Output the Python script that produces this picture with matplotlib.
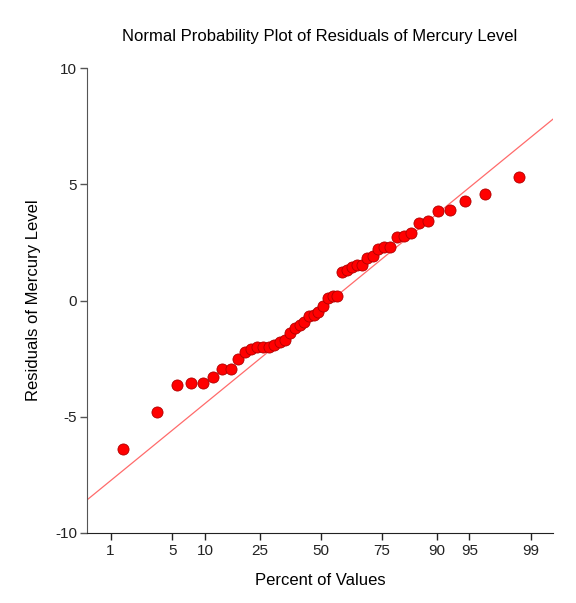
import matplotlib
matplotlib.use("Agg")
import matplotlib.pyplot as plt
import numpy as np
from statistics import NormalDist

plt.rcParams['font.family'] = ['Liberation Sans', 'DejaVu Sans']

# Sorted residuals
residuals = [-6.41, -4.79, -3.65, -3.57, -3.55, -3.29, -2.96, -2.93, -2.53, -2.20,
             -2.07, -2.02, -1.99, -1.99, -1.93, -1.79, -1.70, -1.38, -1.18, -1.06,
             -0.91, -0.67, -0.62, -0.48, -0.24, 0.09, 0.19, 0.21, 1.22, 1.31,
             1.46, 1.53, 1.53, 1.82, 1.92, 2.22, 2.32, 2.32, 2.73, 2.76,
             2.89, 3.36, 3.41, 3.87, 3.88, 4.30, 4.57, 5.33]
tick_percents = [1, 5, 10, 25, 50, 75, 90, 95, 99]
tick_labels = ["1", "5", "10", "25", "50", "75", "90", "95", "99"]
line_intercept = -0.36
line_slope = 3.18

nd = NormalDist()
n = len(residuals)
percents = [100 * (i - 0.3175) / (n + 0.365) for i in range(1, n + 1)]
z = np.array([nd.inv_cdf(p / 100) for p in percents])
tick_z = [nd.inv_cdf(p / 100) for p in tick_percents]

fig = plt.figure(figsize=(5.76, 6.03), dpi=100)
ax = fig.add_axes([0.151, 0.1166, 0.809, 0.770])

xlim = (-2.588, 2.57)
xx = np.array(xlim)
ax.plot(xx, line_intercept + line_slope * xx, color='#ff6b6b', lw=0.9, zorder=2)
ax.plot(z, residuals, 'o', color='#ff0000', markeredgecolor='#b00000',
        markeredgewidth=0.6, markersize=8, zorder=3)

ax.set_xlim(*xlim)
ax.set_ylim(-10, 10)
ax.set_xticks(tick_z)
ax.set_xticklabels(tick_labels)
ax.set_yticks([-10, -5, 0, 5, 10])
ax.set_yticklabels(["-10", "-5", "0", "5", "10"])

for s in ['top', 'right']:
    ax.spines[s].set_visible(False)
ax.spines['left'].set_color('#555555')
ax.spines['bottom'].set_color('#222222')
ax.tick_params(axis='both', direction='out', length=5, width=1, labelsize=11,
               colors='#222222', pad=3)
ax.tick_params(axis='y', color='#555555', pad=2)

ax.set_title("Normal Probability Plot of Residuals of Mercury Level", fontsize=12, pad=20)
ax.set_xlabel("Percent of Values", fontsize=12, labelpad=11)
ax.set_ylabel("Residuals of Mercury Level", fontsize=12, labelpad=10)

fig.savefig("out.png", dpi=100)
